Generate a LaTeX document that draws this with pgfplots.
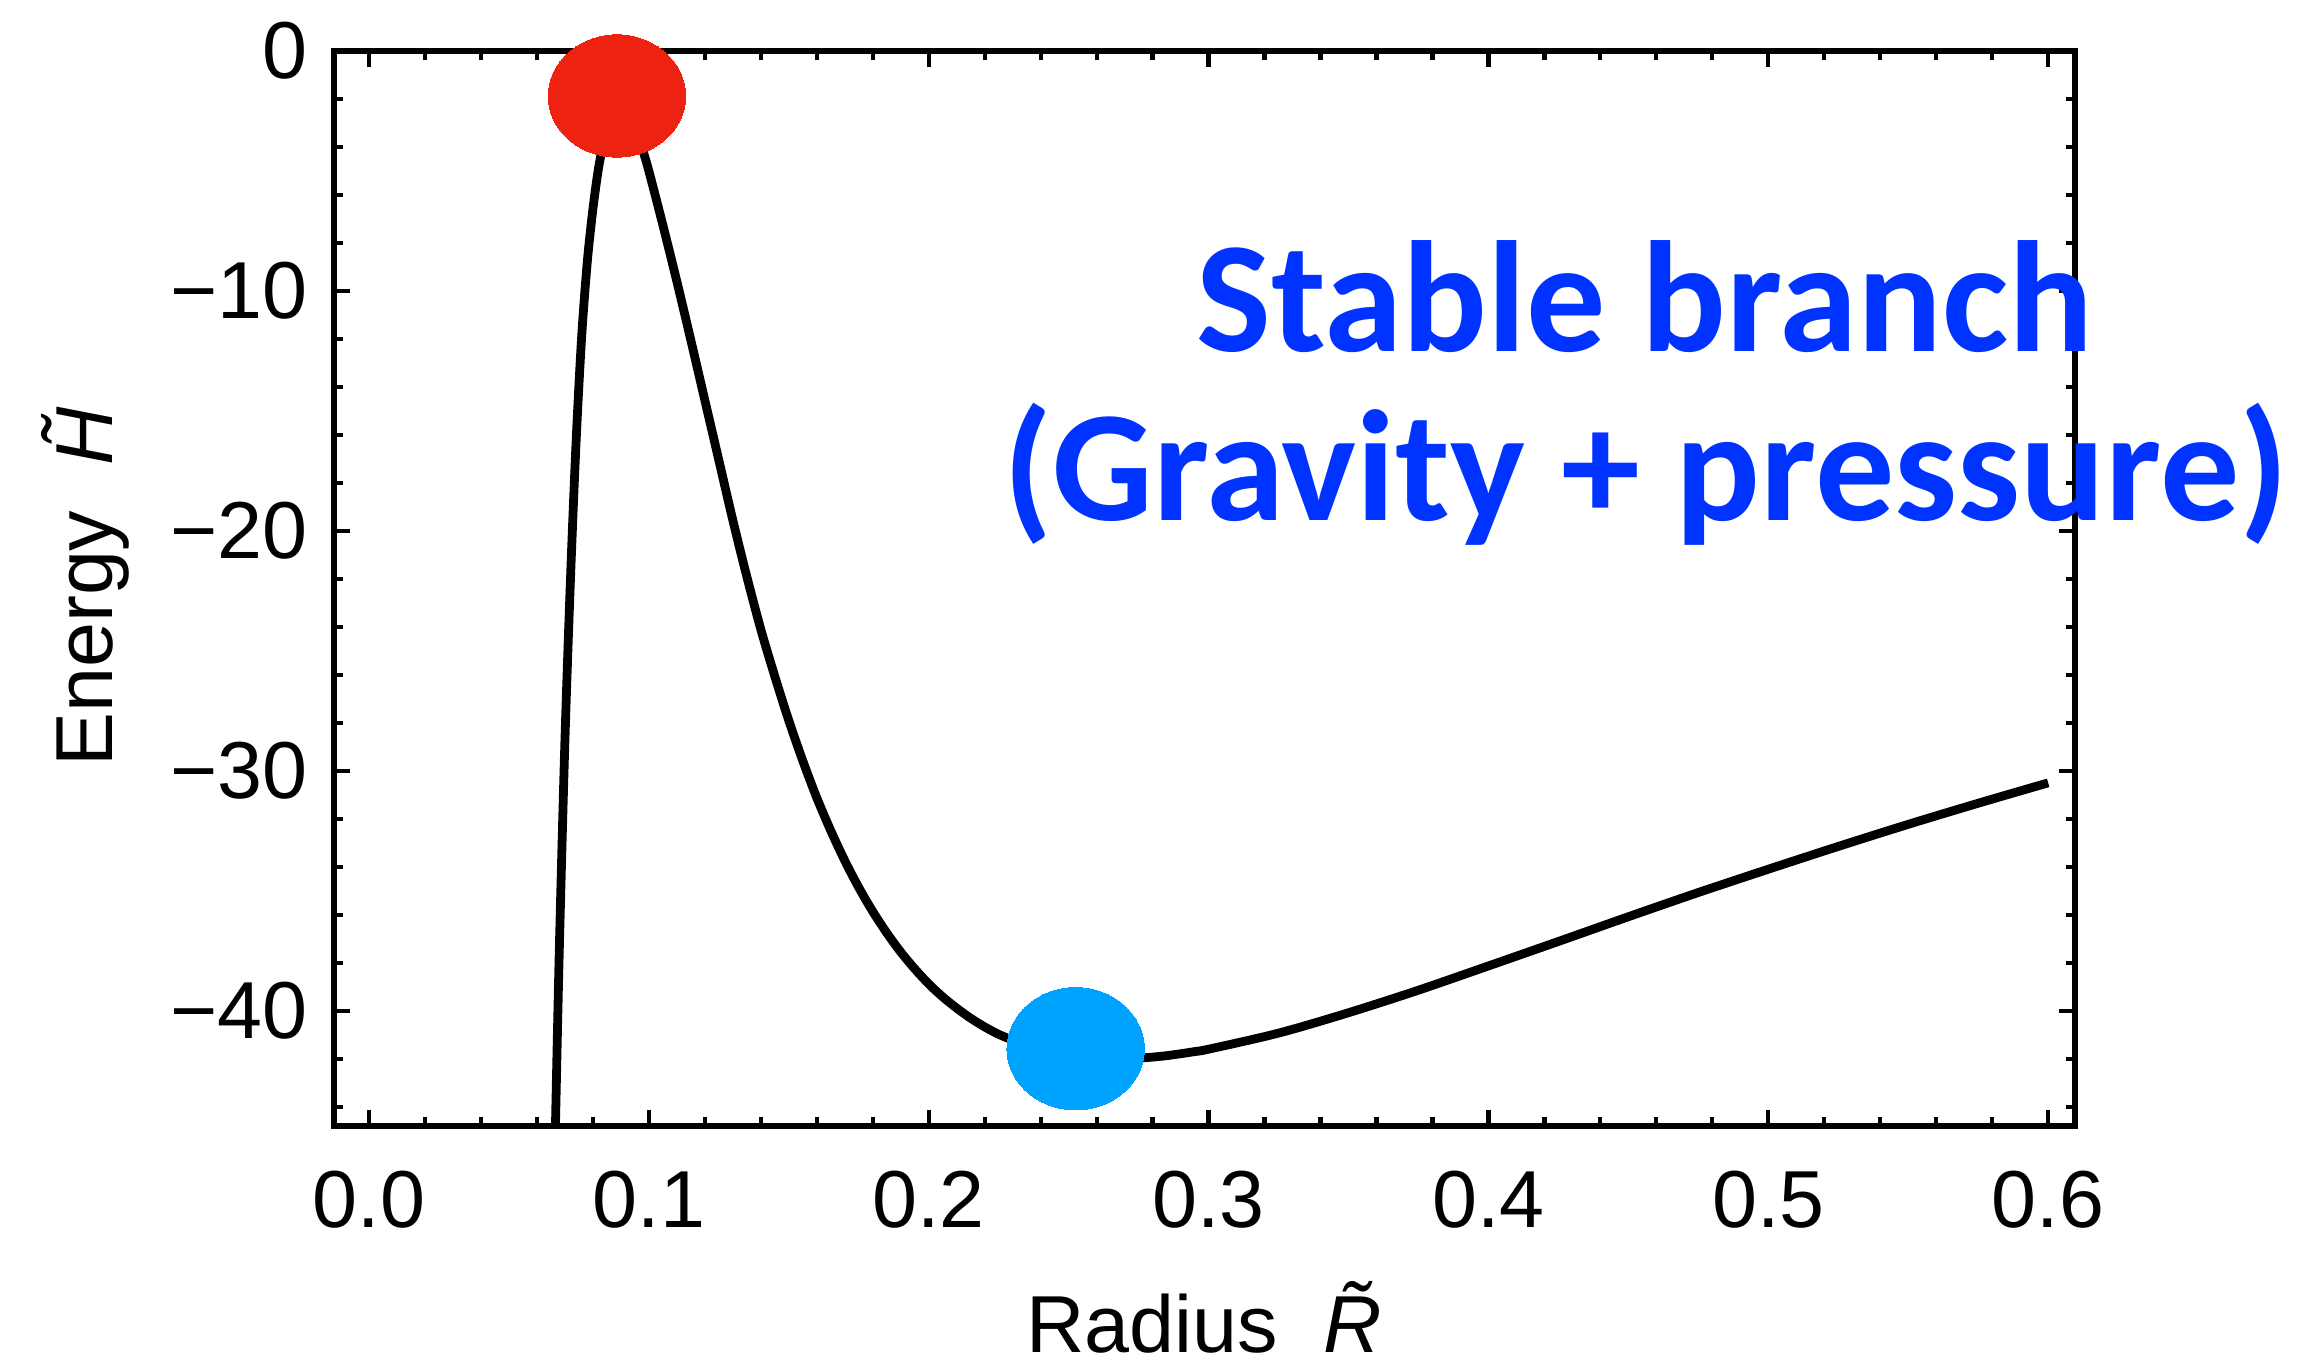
\documentclass[border=0pt]{standalone}
\usepackage{pgfplots}
\pgfplotsset{compat=1.18}
\usepackage{fontspec}
\setmainfont{Liberation Sans}
\newfontfamily\calib{Carlito}
\definecolor{redpt}{RGB}{238,34,17}
\definecolor{bluept}{RGB}{0,162,255}
\definecolor{txtblue}{RGB}{0,51,255}
\begin{document}
\begin{tikzpicture}
\useasboundingbox (0,0) rectangle (23,13.66);
\begin{axis}[
  at={(3.34cm,2.40cm)}, anchor=south west,
  scale only axis, width=17.41cm, height=10.75cm,
  xmin=-0.0125, xmax=0.6096, ymin=-44.8, ymax=0,
  clip=false,
  axis line style={line width=1.7pt},
  xtick={0,0.1,0.2,0.3,0.4,0.5,0.6},
  xticklabels={0.0,0.1,0.2,0.3,0.4,0.5,0.6},
  minor xtick={0.02,0.04,0.06,0.08,0.12,0.14,0.16,0.18,0.22,0.24,0.26,0.28,0.32,0.34,0.36,0.38,0.42,0.44,0.46,0.48,0.52,0.54,0.56,0.58},
  ytick={-40,-30,-20,-10,0},
  yticklabels={−40,−30,−20,−10,0},
  minor ytick={-44,-42,-38,-36,-34,-32,-28,-26,-24,-22,-18,-16,-14,-12,-8,-6,-4,-2},
  xtick pos=both, ytick pos=both,
  xticklabel pos=lower, yticklabel pos=left,
  tick align=inside,
  major tick length=0.16cm, minor tick length=0.09cm,
  tick style={black, line width=1.2pt},
  tick label style={font=\fontsize{23}{27}\selectfont, inner sep=0pt},
  xticklabel style={yshift=-12.5pt},
  yticklabel style={xshift=-7.4pt},
]
\addplot[black, line width=2.5pt, smooth, tension=0.5] table {
x y
0.06663 -44.8
0.068 -37.5
0.070 -28.8
0.072 -22.0
0.074 -16.3
0.076 -11.9
0.078 -8.8
0.080 -6.6
0.082 -4.9
0.084 -3.7
0.086 -2.9
0.088 -2.5
0.090 -2.4
0.092 -2.5
0.094 -2.9
0.096 -3.5
0.098 -4.2
0.100 -5.0
0.105 -7.25
0.110 -9.6
0.115 -12.05
0.120 -14.55
0.125 -17.05
0.130 -19.55
0.135 -21.9
0.140 -24.1
0.145 -26.06
0.150 -27.9
0.155 -29.58
0.160 -31.12
0.165 -32.49
0.170 -33.74
0.175 -34.86
0.180 -35.86
0.185 -36.75
0.190 -37.55
0.195 -38.25
0.200 -38.88
0.205 -39.42
0.210 -39.89
0.215 -40.31
0.220 -40.67
0.225 -40.98
0.230 -41.22
0.235 -41.44
0.240 -41.62
0.245 -41.74
0.250 -41.85
0.255 -41.92
0.260 -41.98
0.265 -41.99
0.270 -41.99
0.275 -41.97
0.280 -41.93
0.285 -41.87
0.290 -41.79
0.295 -41.70
0.300 -41.60
0.325 -40.93
0.350 -40.08
0.375 -39.14
0.400 -38.13
0.425 -37.11
0.450 -36.08
0.475 -35.07
0.500 -34.10
0.525 -33.15
0.550 -32.23
0.575 -31.35
0.600 -30.50
};
\addplot[redpt, only marks, mark=*, mark size=17.4pt, mark options={draw=redpt, fill=redpt, line width=0pt, xscale=1.123}] coordinates {(0.0886,-1.875)};
\addplot[bluept, only marks, mark=*, mark size=17.4pt, mark options={draw=bluept, fill=bluept, line width=0pt, xscale=1.123}] coordinates {(0.2525,-41.58)};
\end{axis}
\node[anchor=base, font=\calib\bfseries\fontsize{45}{54}\selectfont, text=txtblue] at (16.45,10.14) {Stable branch};
\node[anchor=base, font=\calib\bfseries\fontsize{45}{54}\selectfont, text=txtblue] at (16.46,8.45) {(Gravity + pressure)};
\node[anchor=base, font=\fontsize{23}{27}\selectfont] at (12.04,0.13) {Radius\ \ \textit{R̃}};
\node[anchor=base, rotate=90, font=\fontsize{23}{27}\selectfont] at (1.12,7.79) {Energy\ \ \textit{H̃}};
\end{tikzpicture}
\end{document}
